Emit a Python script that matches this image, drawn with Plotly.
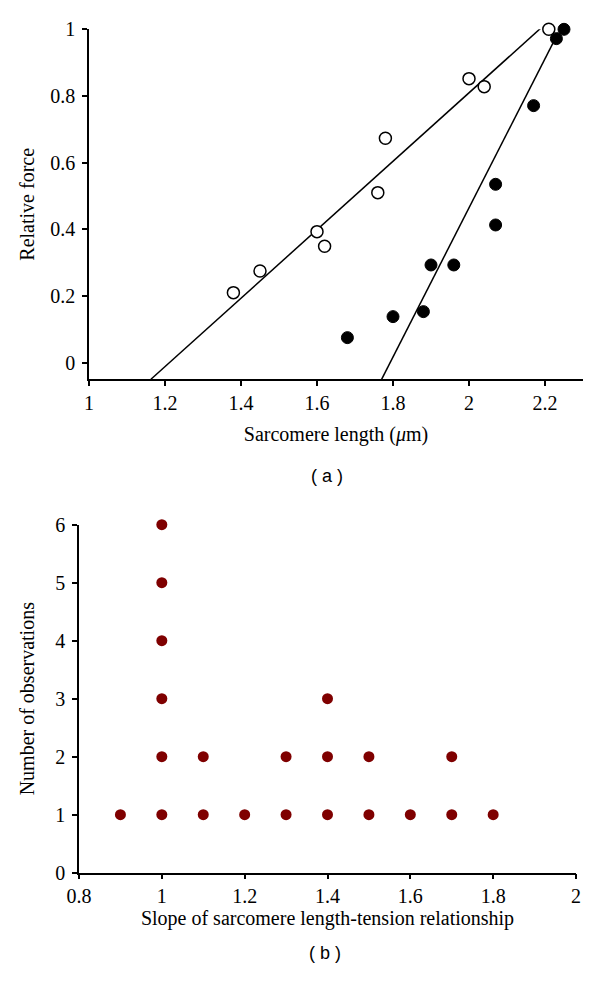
import plotly.graph_objects as go

# Panel (a): relative force vs sarcomere length
open_x = [1.38, 1.45, 1.60, 1.62, 1.76, 1.78, 2.00, 2.04, 2.21]
open_y = [0.21, 0.275, 0.393, 0.349, 0.51, 0.673, 0.852, 0.828, 1.00]
filled_x = [1.68, 1.80, 1.88, 1.90, 1.96, 2.07, 2.07, 2.17, 2.23, 2.25]
filled_y = [0.075, 0.138, 0.153, 0.293, 0.293, 0.413, 0.535, 0.771, 0.972, 1.00]
open_fit_x = [1.163, 2.205]
open_fit_y = [-0.05, 1.02]
filled_fit_x = [1.770, 2.235]
filled_fit_y = [-0.05, 0.99]

# Panel (b): slope histogram as stacked dots
slope_values = [0.9, 1.0, 1.1, 1.2, 1.3, 1.4, 1.5, 1.6, 1.7, 1.8]
slope_counts = [1, 6, 2, 1, 2, 3, 2, 1, 2, 1]

dot_x, dot_y = [], []
for v, c in zip(slope_values, slope_counts):
    for k in range(1, c + 1):
        dot_x.append(v)
        dot_y.append(k)

SERIF = "Liberation Serif, Times New Roman, DejaVu Serif, serif"
SANS = "Liberation Sans, Arial, DejaVu Sans, sans-serif"
TFS = 20   # tick font size
AFS = 20   # axis title font size

# Page has 8px body margin; figure sized to fit inside the 600x982 window
W, H, OFF = 584, 966, 8


def dx(px):
    return (px - OFF) / W


def dy(py):
    return 1 - (py - OFF) / H


fig = go.Figure()
fig.add_trace(go.Scatter(x=open_fit_x, y=open_fit_y, mode="lines",
                         line=dict(color="black", width=1.5), cliponaxis=False,
                         xaxis="x", yaxis="y", showlegend=False))
fig.add_trace(go.Scatter(x=filled_fit_x, y=filled_fit_y, mode="lines",
                         line=dict(color="black", width=1.5), cliponaxis=False,
                         xaxis="x", yaxis="y", showlegend=False))
fig.add_trace(go.Scatter(x=open_x, y=open_y, mode="markers",
                         marker=dict(size=12, color="white", line=dict(color="black", width=1.5)),
                         cliponaxis=False, xaxis="x", yaxis="y", showlegend=False))
fig.add_trace(go.Scatter(x=filled_x, y=filled_y, mode="markers",
                         marker=dict(size=12, color="black", line=dict(color="black", width=1)),
                         cliponaxis=False, xaxis="x", yaxis="y", showlegend=False))
fig.add_trace(go.Scatter(x=dot_x, y=dot_y, mode="markers",
                         marker=dict(size=11, color="#7f0000"),
                         cliponaxis=False, xaxis="x2", yaxis="y2", showlegend=False))

axis_common = dict(showgrid=False, zeroline=False, showline=True, linecolor="black",
                   linewidth=1.5, ticks="outside", ticklen=5, tickcolor="black",
                   tickwidth=1.5, tickfont=dict(family=SERIF, size=TFS, color="black"),
                   automargin=False)
title_font = dict(family=SERIF, size=AFS, color="black")

fig.update_layout(
    width=W, height=H,
    margin=dict(l=0, r=0, t=0, b=0),
    paper_bgcolor="white", plot_bgcolor="white",
    showlegend=False,
    xaxis=dict(domain=[dx(89), dx(583)], anchor="y", range=[1, 2.3],
               tickvals=[1, 1.2, 1.4, 1.6, 1.8, 2, 2.2],
               ticktext=["1", "1.2", "1.4", "1.6", "1.8", "2", "2.2"],
               title=dict(text="Sarcomere length (<i>μ</i>m)", font=title_font, standoff=14),
               **axis_common),
    yaxis=dict(domain=[dy(379.3), dy(29.3)], anchor="x", range=[-0.05, 1.0],
               tickvals=[0, 0.2, 0.4, 0.6, 0.8, 1],
               ticktext=["0", "0.2", "0.4", "0.6", "0.8", "1"],
               ticklabelstandoff=3,
               title=dict(text="Relative force", font=title_font, standoff=10),
               **axis_common),
    xaxis2=dict(domain=[dx(79), dx(576)], anchor="y2", range=[0.8, 2.0],
                tickvals=[0.8, 1, 1.2, 1.4, 1.6, 1.8, 2],
                ticktext=["0.8", "1", "1.2", "1.4", "1.6", "1.8", "2"],
                title=dict(text="Slope of sarcomere length-tension relationship",
                           font=title_font, standoff=0),
                **axis_common),
    yaxis2=dict(domain=[dy(872.7), dy(524.7)], anchor="x2", range=[0, 6],
                tickvals=[0, 1, 2, 3, 4, 5, 6],
                ticklabelstandoff=3,
                title=dict(text="Number of observations", font=title_font, standoff=15),
                **axis_common),
    annotations=[
        dict(text="( a )", x=dx(327), y=dy(476), xref="paper", yref="paper",
             xanchor="center", yanchor="middle",
             showarrow=False, font=dict(family=SANS, size=18, color="black")),
        dict(text="( b )", x=dx(325), y=dy(953), xref="paper", yref="paper",
             xanchor="center", yanchor="middle",
             showarrow=False, font=dict(family=SANS, size=18, color="black")),
    ],
)

fig.write_html("out.html")
